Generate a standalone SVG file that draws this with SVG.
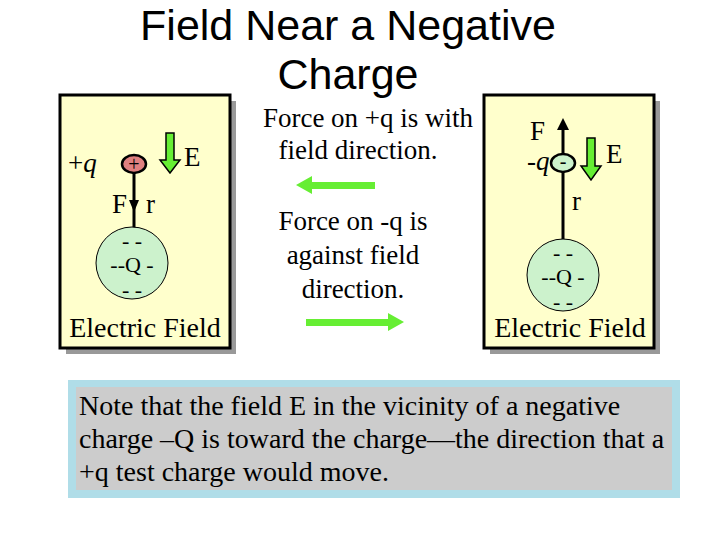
<svg xmlns="http://www.w3.org/2000/svg" width="720" height="540" viewBox="0 0 720 540">
<defs>
<style>
.t{font-family:"Liberation Serif","Times New Roman","DejaVu Serif",serif;fill:#000}
.h{font-family:"Liberation Sans",Arial,sans-serif;font-size:43px;text-anchor:middle}
.panel{fill:#ffffcc;stroke:#000;stroke-width:3}
.shadow{fill:#999}
.ga{fill:#66ee33;stroke:#000;stroke-width:1.5}
.q{fill:#ccf2cc;stroke:#000;stroke-width:1}
</style>
</defs>
<rect width="720" height="540" fill="#fff"/>
<text class="h" x="348" y="40">Field Near a Negative</text>
<text class="h" x="348" y="89">Charge</text>
<g id="left-panel">
<rect class="shadow" x="66" y="101" width="170" height="253"/>
<rect class="panel" x="60" y="95" width="170" height="253"/>
<line x1="134" y1="164" x2="134" y2="253" stroke="#000" stroke-width="3"/>
<polygon points="129,200 139,200 134,212" fill="#000"/>
<circle class="q" cx="132" cy="263" r="36"/>
<text class="t" x="132" y="248" font-size="22" text-anchor="middle">- -</text>
<text class="t" x="132" y="272" font-size="22" text-anchor="middle">--Q -</text>
<text class="t" x="132" y="297" font-size="22" text-anchor="middle">- -</text>
<ellipse cx="134" cy="164" rx="12" ry="9" fill="#e08080" stroke="#000" stroke-width="2.5"/>
<text class="t" x="134" y="171" font-size="20" text-anchor="middle">+</text>
<polygon class="ga" points="166,133 174,133 174,160 180,160 170,173 160,160 166,160"/>
<text class="t" x="184" y="166" font-size="27">E</text>
<text class="t" x="68" y="172" font-size="27">+<tspan font-style="italic">q</tspan></text>
<text class="t" x="112" y="213" font-size="27">F</text>
<text class="t" x="146" y="213" font-size="27">r</text>
<text class="t" x="145" y="337" font-size="28" text-anchor="middle">Electric Field</text>
</g>
<g id="right-panel">
<rect class="shadow" x="490" y="101" width="170" height="253"/>
<rect class="panel" x="484" y="95" width="170" height="253"/>
<line x1="563" y1="163" x2="563" y2="250" stroke="#000" stroke-width="3"/>
<line x1="563" y1="163" x2="563" y2="128" stroke="#000" stroke-width="3"/>
<polygon points="557,130 569,130 563,118" fill="#000"/>
<circle class="q" cx="563" cy="275" r="36"/>
<text class="t" x="563" y="260" font-size="22" text-anchor="middle">- -</text>
<text class="t" x="563" y="284" font-size="22" text-anchor="middle">--Q -</text>
<text class="t" x="563" y="309" font-size="22" text-anchor="middle">- -</text>
<ellipse cx="563" cy="163" rx="12" ry="9" fill="#ccf2cc" stroke="#000" stroke-width="2.5"/>
<text class="t" x="563" y="168" font-size="20" text-anchor="middle">-</text>
<polygon class="ga" points="587,138 595,138 595,166 601,166 591,180 581,166 587,166"/>
<text class="t" x="606" y="163" font-size="27">E</text>
<text class="t" x="530" y="140" font-size="27">F</text>
<text class="t" x="527" y="170" font-size="27" font-style="italic">-q</text>
<text class="t" x="572" y="210" font-size="27">r</text>
<text class="t" x="570" y="337" font-size="28" text-anchor="middle">Electric Field</text>
</g>
<g id="middle">
<text class="t" x="368" y="127" font-size="27" text-anchor="middle">Force on +q is with</text>
<text class="t" x="358" y="159" font-size="27" text-anchor="middle">field direction.</text>
<text class="t" x="353" y="230" font-size="27" text-anchor="middle">Force on -q  is</text>
<text class="t" x="353" y="264" font-size="27" text-anchor="middle">against field</text>
<text class="t" x="353" y="298" font-size="27" text-anchor="middle">direction.</text>
</g>
<g id="connectors">
<polygon fill="#66ee33" points="296,185 312,176 312,182 375,182 375,189 312,189 312,194"/>
<polygon fill="#66ee33" points="404,322 388,313 388,319 306,319 306,326 388,326 388,331"/>
</g>
<g id="note">
<rect x="68" y="380" width="612" height="118" fill="#b0dde8"/>
<rect x="76" y="387" width="596" height="103" fill="#cccccc"/>
<text class="t" x="79" y="415" font-size="28">Note that the field E in the vicinity of a negative</text>
<text class="t" x="79" y="448" font-size="28">charge –Q is toward the charge—the direction that a</text>
<text class="t" x="79" y="481" font-size="28">+q test charge would move.</text>
</g>
</svg>
